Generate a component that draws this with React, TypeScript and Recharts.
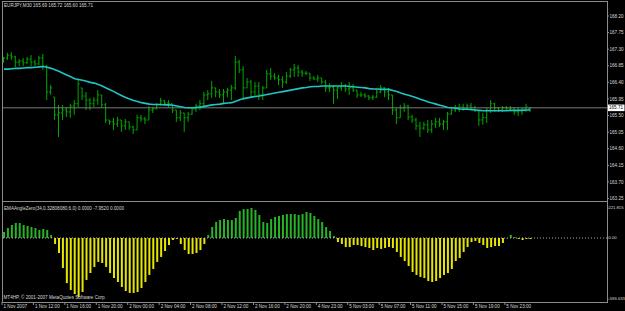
import React from 'react';
import { ComposedChart, Bar, Line, XAxis, YAxis, ReferenceLine, Cell } from 'recharts';

// EURJPY M30 bars
const opens = [
  166.95, 167.06, 167.14, 167.09, 166.95, 166.98, 166.93, 167.03, 166.95, 166.90,
  167.06, 166.84, 166.14, 166.00, 165.52, 165.57, 165.65, 165.60, 165.76, 165.82,
  166.25, 166.03, 165.92, 165.82, 165.92, 166.06, 165.79, 165.38, 165.33, 165.27,
  165.38, 165.22, 165.33, 165.19, 165.11, 165.44, 165.41, 165.38, 165.65, 165.68,
  165.79, 165.90, 165.84, 165.82, 165.65, 165.44, 165.57, 165.44, 165.54, 165.68,
  165.76, 165.82, 166.06, 166.09, 166.25, 166.14, 166.06, 166.14, 166.19, 166.25,
  166.95, 166.74, 166.25, 166.41, 166.14, 166.30, 166.06, 166.25, 166.63, 166.57,
  166.52, 166.47, 166.41, 166.57, 166.74, 166.79, 166.68, 166.65, 166.65, 166.52,
  166.49, 166.52, 166.41, 166.25, 166.27, 166.19, 166.25, 166.30, 166.22, 166.25,
  166.19, 166.06, 166.06, 166.03, 165.98, 166.00, 166.14, 166.25, 166.14, 166.06,
  165.65, 165.44, 165.71, 165.76, 165.46, 165.38, 165.22, 165.16, 165.25, 165.11,
  165.27, 165.33, 165.27, 165.33, 165.54, 165.65, 165.71, 165.73, 165.71, 165.76,
  165.71, 165.63, 165.38, 165.44, 165.65, 165.82, 165.71, 165.65, 165.71, 165.68,
  165.71, 165.60, 165.65, 165.68, 165.69,
];
const highs = [
  167.09, 167.20, 167.22, 167.12, 167.03, 167.06, 167.09, 167.14, 167.01, 167.12,
  167.17, 166.87, 166.33, 166.00, 165.79, 165.79, 165.73, 165.82, 165.92, 166.49,
  166.25, 166.14, 165.98, 166.00, 166.19, 166.06, 165.84, 165.38, 165.44, 165.46,
  165.38, 165.41, 165.33, 165.22, 165.52, 165.52, 165.46, 165.76, 165.73, 165.84,
  165.98, 165.92, 165.92, 165.82, 165.65, 165.65, 165.57, 165.60, 165.73, 165.82,
  165.92, 166.14, 166.19, 166.44, 166.25, 166.22, 166.22, 166.25, 166.33, 167.12,
  167.01, 166.84, 166.52, 166.47, 166.41, 166.41, 166.30, 166.74, 166.79, 166.65,
  166.60, 166.57, 166.68, 166.79, 166.90, 166.87, 166.74, 166.71, 166.65, 166.57,
  166.60, 166.52, 166.47, 166.38, 166.33, 166.30, 166.41, 166.36, 166.41, 166.36,
  166.19, 166.14, 166.11, 166.06, 166.06, 166.22, 166.33, 166.27, 166.25, 166.06,
  165.71, 165.79, 165.84, 165.79, 165.52, 165.44, 165.33, 165.33, 165.38, 165.38,
  165.44, 165.44, 165.38, 165.60, 165.71, 165.79, 165.82, 165.82, 165.82, 165.84,
  165.76, 165.65, 165.57, 165.71, 165.92, 165.84, 165.73, 165.76, 165.76, 165.76,
  165.73, 165.73, 165.71, 165.82, 165.72,
];
const lows = [
  166.93, 167.01, 167.01, 166.82, 166.84, 166.84, 166.90, 166.84, 166.84, 166.87,
  166.74, 165.92, 166.06, 165.38, 164.92, 165.38, 165.46, 165.44, 165.52, 165.73,
  165.92, 165.65, 165.65, 165.73, 165.79, 165.71, 165.30, 165.25, 165.11, 165.19,
  165.06, 165.11, 165.11, 165.00, 165.11, 165.33, 165.27, 165.38, 165.57, 165.68,
  165.76, 165.79, 165.71, 165.57, 165.33, 165.35, 165.06, 165.33, 165.52, 165.60,
  165.65, 165.71, 165.92, 165.98, 166.00, 165.98, 165.82, 166.00, 165.92, 166.19,
  166.65, 165.92, 166.25, 166.00, 166.06, 165.92, 165.92, 166.25, 166.47, 166.47,
  166.33, 166.25, 166.36, 166.52, 166.55, 166.55, 166.55, 166.60, 166.44, 166.47,
  166.41, 166.36, 166.14, 166.14, 165.82, 165.95, 166.17, 166.14, 166.06, 166.14,
  165.98, 166.00, 165.98, 165.92, 165.92, 165.98, 166.11, 166.00, 165.92, 165.52,
  165.27, 165.44, 165.60, 165.38, 165.30, 165.11, 164.92, 165.11, 165.03, 165.03,
  165.16, 165.19, 165.11, 165.11, 165.52, 165.60, 165.60, 165.63, 165.65, 165.65,
  165.60, 165.22, 165.25, 165.30, 165.57, 165.60, 165.60, 165.60, 165.63, 165.65,
  165.52, 165.49, 165.52, 165.60, 165.60,
];
const closes = [
  167.06, 167.14, 167.09, 166.95, 166.98, 166.93, 167.03, 166.95, 166.90, 167.06,
  166.84, 166.14, 166.25, 165.52, 165.57, 165.65, 165.60, 165.76, 165.82, 166.36,
  166.03, 165.92, 165.82, 165.92, 166.06, 165.79, 165.38, 165.33, 165.27, 165.38,
  165.22, 165.33, 165.19, 165.11, 165.44, 165.41, 165.38, 165.65, 165.68, 165.79,
  165.90, 165.84, 165.82, 165.65, 165.44, 165.57, 165.44, 165.54, 165.68, 165.76,
  165.82, 166.06, 166.09, 166.25, 166.14, 166.06, 166.14, 166.19, 166.25, 166.95,
  166.74, 166.25, 166.41, 166.14, 166.30, 166.06, 166.25, 166.63, 166.57, 166.52,
  166.47, 166.41, 166.57, 166.74, 166.79, 166.68, 166.65, 166.65, 166.52, 166.49,
  166.52, 166.41, 166.25, 166.27, 166.19, 166.25, 166.30, 166.22, 166.25, 166.19,
  166.06, 166.06, 166.03, 165.98, 166.00, 166.14, 166.25, 166.14, 166.06, 165.65,
  165.44, 165.71, 165.76, 165.46, 165.38, 165.22, 165.16, 165.25, 165.11, 165.27,
  165.33, 165.27, 165.33, 165.54, 165.65, 165.71, 165.73, 165.71, 165.76, 165.71,
  165.63, 165.38, 165.44, 165.65, 165.82, 165.71, 165.65, 165.71, 165.68, 165.71,
  165.60, 165.65, 165.68, 165.73, 165.71,
];
// cyan moving average
const ema = [
  166.76, 166.76, 166.77, 166.78, 166.78, 166.79, 166.80, 166.80, 166.81, 166.82,
  166.83, 166.81, 166.78, 166.74, 166.70, 166.65, 166.60, 166.55, 166.50, 166.48,
  166.46, 166.43, 166.40, 166.38, 166.34, 166.30, 166.25, 166.20, 166.15, 166.09,
  166.04, 165.99, 165.95, 165.91, 165.88, 165.85, 165.83, 165.81, 165.80, 165.80,
  165.80, 165.79, 165.79, 165.78, 165.76, 165.74, 165.72, 165.71, 165.71, 165.72,
  165.73, 165.75, 165.77, 165.79, 165.80, 165.81, 165.83, 165.84, 165.85, 165.89,
  165.93, 165.96, 165.98, 166.00, 166.02, 166.03, 166.05, 166.07, 166.09, 166.11,
  166.13, 166.15, 166.17, 166.19, 166.21, 166.23, 166.25, 166.26, 166.28, 166.29,
  166.29, 166.30, 166.30, 166.30, 166.30, 166.30, 166.30, 166.30, 166.29, 166.28,
  166.27, 166.26, 166.25, 166.23, 166.22, 166.22, 166.21, 166.21, 166.21, 166.18,
  166.15, 166.11, 166.08, 166.05, 166.02, 165.98, 165.94, 165.91, 165.87, 165.84,
  165.81, 165.78, 165.75, 165.72, 165.71, 165.70, 165.68, 165.67, 165.67, 165.66,
  165.65, 165.64, 165.63, 165.63, 165.63, 165.63, 165.63, 165.63, 165.63, 165.64,
  165.64, 165.64, 165.64, 165.65, 165.65,
];
// EMAAngleZero histogram
const angle = [
  44, 74, 96, 111, 111, 96, 89, 81, 74, 59,
  67, 59, 22, -44, -111, -222, -333, -384, -414, -436,
  -399, -310, -259, -214, -177, -185, -214, -259, -296, -325,
  -362, -392, -406, -406, -399, -370, -325, -273, -229, -177,
  -140, -96, -52, -15, -7, -44, -89, -118, -118, -111,
  -89, -44, 22, 81, 118, 133, 140, 133, 133, 148,
  200, 214, 214, 221.815, 207, 170, 118, 111, 140, 155,
  163, 170, 177, 177, 177, 170, 177, 192, 185, 163,
  140, 118, 81, 52, 15, -30, -44, -67, -67, -52,
  -52, -59, -67, -74, -89, -74, -81, -74, -67, -74,
  -103, -140, -170, -207, -251, -273, -288, -296, -318, -325,
  -318, -296, -273, -259, -229, -170, -148, -103, -67, -30,
  -22, -37, -52, -74, -67, -59, -59, -37, -2, 22,
  7, -7, -15, -7, -7.952,
];

const timeLabels = [
  '1 Nov 2007', '1 Nov 12:00', '1 Nov 16:00', '1 Nov 20:00', '2 Nov 00:00', '2 Nov 04:00',
  '2 Nov 08:00', '2 Nov 12:00', '2 Nov 16:00', '2 Nov 20:00', '4 Nov 23:00', '5 Nov 03:00',
  '5 Nov 07:00', '5 Nov 11:00', '5 Nov 15:00', '5 Nov 19:00', '5 Nov 23:00',
];
const priceTicks = [163.25, 163.7, 164.15, 164.6, 165.05, 165.5, 165.71, 165.95, 166.4, 166.85, 167.3, 167.75, 168.2];
const lastPrice = 165.71;
const oscTicks = [-451, 0, 221.815];
const oscTickLabels = ['-596.633', '0.00', '221.815'];

const SLOTS = 154;
const BAND = 605 / SLOTS;
const FONT = "'Liberation Sans', Arial, sans-serif";
const FS = 4.6;
const TXT = '#d8d8d8';
const FRAME = '#8c8c8c';

const data = Array.from({ length: SLOTS }, (_, i) =>
  i < opens.length
    ? { i, range: [lows[i], highs[i]], o: opens[i], h: highs[i], l: lows[i], c: closes[i], ema: ema[i], angle: angle[i] }
    : { i }
);
const timeTicks = timeLabels.map((_, k) => k * 8);

const OhlcShape = (props: any) => {
  const { x, y, width, height, payload } = props;
  if (payload == null || payload.h == null) return null;
  const top = Math.min(y, y + height);
  const h = Math.abs(height);
  const span = payload.h - payload.l || 1;
  const cx = x + width / 2;
  const oy = top + ((payload.h - payload.o) / span) * h;
  const cy = top + ((payload.h - payload.c) / span) * h;
  return (
    <g stroke="#00a800" strokeWidth={1}>
      <line x1={cx} x2={cx} y1={top} y2={top + Math.max(h, 1)} />
      <line x1={cx - 1.5} x2={cx} y1={oy} y2={oy} />
      <line x1={cx} x2={cx + 1.5} y1={cy} y2={cy} />
    </g>
  );
};

const PriceTick = (props: any) => {
  const { y, payload } = props;
  const v = payload.value;
  if (v === lastPrice) {
    return (
      <g>
        <rect x={608} y={y - 3.3} width={16.5} height={6.6} fill="#ffffff" />
        <text x={609} y={y} dy="0.35em" fontSize={FS} fontFamily={FONT} fill="#000">{v.toFixed(2)}</text>
      </g>
    );
  }
  return (
    <g>
      <line x1={607} x2={609} y1={y} y2={y} stroke={FRAME} />
      <text x={609.5} y={y} dy="0.35em" fontSize={FS} fontFamily={FONT} fill={TXT}>{v.toFixed(2)}</text>
    </g>
  );
};

const OscTick = (props: any) => {
  const { y, payload } = props;
  const label = oscTickLabels[oscTicks.indexOf(payload.value)];
  return (
    <g>
      <line x1={607} x2={608.5} y1={y} y2={y} stroke={FRAME} />
      <text x={608.4} y={y} dy="0.35em" fontSize={4.2} fontFamily={FONT} fill={TXT}>{label}</text>
    </g>
  );
};

const TimeTick = (props: any) => {
  const { x, payload } = props;
  const label = timeLabels[payload.value / 8];
  const lx = x - BAND / 2;
  return (
    <g>
      <line x1={lx} x2={lx} y1={302} y2={305} stroke={FRAME} />
      <text x={lx + 1.5} y={308} fontSize={FS} fontFamily={FONT} fill={TXT}>{label}</text>
    </g>
  );
};

export default function App() {
  return (
    <div style={{ position: 'fixed', left: 0, top: 0, width: 625, height: 311, background: '#000', overflow: 'hidden' }}>
      <div style={{ position: 'absolute', left: 0, top: 0 }}>
        <ComposedChart width={625} height={202} data={data} margin={{ top: 2, right: 0, bottom: 2, left: 2 }} barCategoryGap={0}>
          <XAxis dataKey="i" hide />
          <YAxis
            orientation="right"
            width={18}
            domain={[163.21, 168.58]}
            allowDataOverflow
            ticks={priceTicks}
            interval={0}
            axisLine={false}
            tickLine={false}
            tick={<PriceTick />}
          />
          <ReferenceLine y={lastPrice} stroke="#7a7a7a" strokeWidth={1} />
          <Bar dataKey="range" barSize={3} shape={<OhlcShape />} isAnimationActive={false} />
          <Line dataKey="ema" type="linear" stroke="#1fc4c4" strokeWidth={1.6} dot={false} isAnimationActive={false} />
        </ComposedChart>
      </div>
      <div style={{ position: 'absolute', left: 0, top: 0 }}>
        <ComposedChart width={625} height={311} data={data} margin={{ top: 202, right: 0, bottom: 0, left: 2 }} barCategoryGap={0}>
          <XAxis
            dataKey="i"
            height={9}
            ticks={timeTicks}
            interval={0}
            axisLine={false}
            tickLine={false}
            tick={<TimeTick />}
          />
          <YAxis
            orientation="right"
            width={18}
            domain={[-473, 266]}
            allowDataOverflow
            ticks={oscTicks}
            interval={0}
            axisLine={false}
            tickLine={false}
            tick={<OscTick />}
          />
          <ReferenceLine y={0} stroke="#b0b0b0" strokeDasharray="1 2" />
          <Bar dataKey="angle" barSize={2} isAnimationActive={false}>
            {data.map((d: any, k) => (
              <Cell key={k} fill={d.angle >= 0 ? '#28b428' : '#e6e600'} />
            ))}
          </Bar>
        </ComposedChart>
      </div>
      <svg width={625} height={311} style={{ position: 'absolute', left: 0, top: 0, pointerEvents: 'none' }}>
        <g stroke={FRAME} strokeWidth={1} fill="none">
          <line x1={2} x2={608} y1={1.5} y2={1.5} />
          <line x1={2.5} x2={2.5} y1={1} y2={303} />
          <line x1={607.5} x2={607.5} y1={1} y2={303} />
          <line x1={2} x2={608} y1={201.5} y2={201.5} />
          <line x1={2} x2={608} y1={302.5} y2={302.5} />
        </g>
        <g fontFamily={FONT} fontSize={FS} fill={TXT}>
          <text x={4} y={6.8}>EURJPY,M30  165.69 165.72 165.60 165.71</text>
          <text x={4} y={209.8}>EMAAngleZero(34,0.32808080,6,0) 0.0000 -7.9520 0.0000</text>
          <text x={3.5} y={299.4}>MT4HP, © 2001-2007 MetaQuotes Software Corp.</text>
        </g>
      </svg>
    </div>
  );
}
